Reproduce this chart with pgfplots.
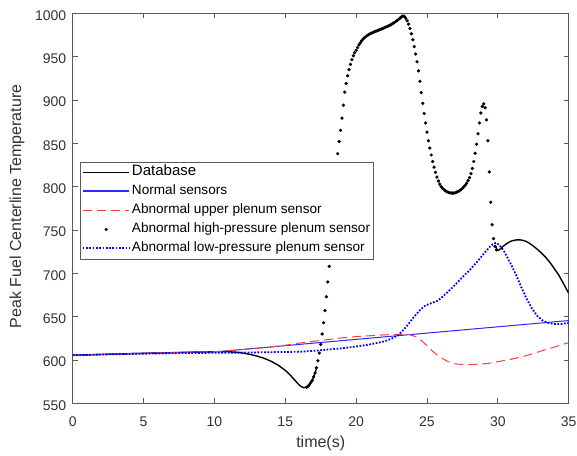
\documentclass[border=0pt]{standalone}
\usepackage{fontspec}
\setmainfont{Liberation Sans}
\usepackage{pgfplots}
\pgfplotsset{compat=1.18}
\definecolor{mred}{RGB}{255,60,60}
\definecolor{mblue}{RGB}{0,0,255}
\definecolor{nblue}{RGB}{40,40,255}
\definecolor{axgray}{RGB}{90,90,90}
\definecolor{txtgray}{RGB}{50,50,50}
\begin{document}
\begin{tikzpicture}
\path[use as bounding box] (-72.7pt,-51.7pt) rectangle (504.3pt,403.3pt);
\begin{axis}[
  at={(0,0)}, anchor=south west,
  scale only axis, width=496pt, height=390pt,
  xmin=0, xmax=35, ymin=550, ymax=1000,
  xtick={0,5,...,35}, ytick={550,600,...,1000},
  axis line style={axgray, line width=0.7pt},
  tick style={axgray, line width=0.7pt},
  major tick length=5pt, tick align=inside,
  /pgf/number format/assume math mode=true,
  /pgf/number format/1000 sep={},
  ticklabel style={font=\fontsize{14}{14}\selectfont, text=txtgray},
  xticklabel style={anchor=center, yshift=-18.8pt},
  yticklabel style={anchor=east, xshift=-3pt, yshift=-2pt},
  xlabel={time(s)}, ylabel={Peak Fuel Centerline Temperature},
  label style={font=\fontsize{16}{16}\selectfont, text=txtgray},
  xlabel style={at={(axis description cs:0.5,-0.1018)}, anchor=center},
  ylabel style={at={(axis description cs:-0.1123,0.505)}, anchor=center},
  legend cell align=left,
  legend style={at={(0.0147,0.6195)}, anchor=north west, draw=axgray, fill=white,
    inner xsep=1.7pt, inner ysep=1pt, row sep=0pt, column sep=0pt,
    font=\fontsize{13.6}{14}\selectfont,
    nodes={inner xsep=1.6pt, inner ysep=3pt, text height=10pt, text depth=3pt}},
]
% Database
\addplot[color=black, line width=1.4pt, unbounded coords=jump,
  legend image code/.code={\draw[draw=black, line width=1.2pt] (0pt,0pt) -- (46.7pt,0pt);}] table {
x y
0 605.5
2 606.3
4 607.2
6 608
8 608.8
10 609.5
11 609.5
11.5 609
12 608
12.5 606.5
13 604.5
13.5 602
14 598.5
14.5 594
15 588
15.3 583.5
15.6 578
15.9 572.5
16.1 569.5
16.3 568
16.5 568.5
16.7 571.5
16.9 576.5
17.0 580.5
17.1 585
17.2 590
17.25 nan
29.85 731
29.95 727
30.05 726.5
30.2 728.5
30.4 731.5
30.6 734
30.8 736
31.0 737.5
31.3 738.5
31.6 738.5
31.9 737.5
32.2 735
32.5 731.5
32.8 727.5
33.1 723
33.4 718
33.7 712
34.0 705
34.3 698
34.6 689
34.8 683
35 677
};
\addlegendentry{\fontsize{15}{15}\selectfont Database}
% Normal sensors
\addplot[color=nblue, line width=1pt,
  legend image code/.code={\draw[draw=nblue, line width=1.1pt] (0pt,0.4pt) -- (46.7pt,0.4pt);}] table {
x y
0 605.5
5 607.8
10 609.5
10.5 610
35 645.5
};
\addlegendentry{Normal sensors}
% Abnormal upper plenum sensor
\addplot[color=mred, line width=1pt, dash pattern=on 9pt off 5pt,
  legend image code/.code={\draw[draw=mred, line width=1pt, dash pattern=on 9pt off 5pt] (0pt,0pt) -- (46.7pt,0pt);}] table {
x y
0 605.5
5 607.8
10 609.5
11 610.5
12 612
13 613.5
14 615
15 617
16 619.5
17 621.5
18 623.5
19 625.5
20 627
21 628
22 629
23 629.5
23.7 629.5
24.2 627
24.6 622.5
25.0 616.5
25.5 608.5
26.0 602.5
26.5 598
27 595.5
27.7 594.5
28.5 595
29.3 596
30 598
31 601
32 605
33 610
34 615
35 620
};
\addlegendentry{Abnormal upper plenum sensor}
% Abnormal high-pressure plenum sensor
\addplot[only marks, mark=*, mark size=1.45pt, color=black,
  legend image code/.code={\fill[black] (23.4pt,0pt) circle (1.4pt);}] table {
x y
16.5 568.5
16.6 569.5
16.7 571.5
16.8 574
16.9 576.5
17.0 580.5
17.1 585
17.2 591
17.3 599
17.4 608
17.5 618
17.6 630
17.7 643
17.8 657
17.9 673
18.0 690
18.1 708
18.2 729
18.3 753
18.4 778
18.5 801
18.6 821
18.7 838
18.8 852
18.9 865
19.0 879
19.1 894
19.2 909
19.3 919
19.4 928
19.5 935
19.6 941
19.7 946.5
19.8 951
19.9 954.5
20.0 957.5
20.1 960.5
20.2 963.5
20.3 966
20.4 968.5
20.5 970.5
20.6 972
20.7 973.5
20.8 974.5
20.9 975.5
21.0 976.5
21.1 977.2
21.2 978
21.3 978.7
21.4 979.4
21.5 980
21.6 980.6
21.7 981.3
21.8 982
21.9 982.7
22.0 983.4
22.1 984.1
22.2 984.8
22.3 985.6
22.4 986.4
22.5 987.3
22.6 988.3
22.7 989.4
22.8 990.6
22.9 991.8
23.0 993
23.1 994.4
23.2 995.8
23.3 996.8
23.4 996.5
23.5 994.5
23.6 991.5
23.7 987.5
23.8 982.5
23.9 976.5
24.0 969.5
24.1 961.5
24.2 953
24.3 944
24.4 933.5
24.5 921.5
24.6 908.5
24.7 896
24.8 884.5
24.9 873.5
25.0 863
25.1 853
25.2 844.5
25.3 836.5
25.4 829
25.5 822.5
25.6 816.5
25.7 811
25.8 806.5
25.9 803
26.0 800
26.1 798
26.2 796.5
26.3 795.2
26.4 794.2
26.5 793.5
26.6 793
26.7 792.7
26.8 792.5
26.9 792.6
27.0 793
27.1 793.6
27.2 794.4
27.3 795.4
27.4 796.6
27.5 798
27.6 799.7
27.7 801.7
27.8 804
27.9 807
28.0 810.5
28.1 815
28.2 821
28.3 829
28.4 838.5
28.5 849
28.6 861
28.7 873.5
28.8 885
28.9 892.5
29.0 895.5
29.1 891
29.2 877
29.3 853
29.4 817
29.5 782
29.6 756
29.7 740
29.8 731
29.9 727
};
\addlegendentry{Abnormal high-pressure plenum sensor}
% Abnormal low-pressure plenum sensor
\addplot[color=mblue, line width=1.8pt, dash pattern=on 1.7pt off 1.6pt,
  legend image code/.code={\draw[draw=mblue, line width=1.8pt, dash pattern=on 1.7pt off 1.6pt] (0pt,0pt) -- (46.7pt,0pt);}] table {
x y
0 605.5
2 606.3
4 607
6 607.5
8 608
10 608.3
12 608.5
14 609
16 609.5
17 610.5
18 612
19 613.5
20 615.5
21 618
22 621.5
22.5 624.5
23 629
23.5 637.5
24 648
24.5 657.5
24.9 663
25.3 665.5
25.7 668
26 671.5
26.5 679
27 687
27.5 695.5
28 703.5
28.5 712.5
29 722.5
29.4 730
29.7 734.5
29.9 735
30.1 732.5
30.4 726.5
30.7 717.5
31.0 708
31.3 697.5
31.6 686
32.0 671.5
32.4 659.5
32.8 650.5
33.2 645
33.6 642.5
34.0 641.5
34.5 641.5
35 643
};
\addlegendentry{Abnormal low-pressure plenum sensor}
\end{axis}
\end{tikzpicture}
\end{document}
